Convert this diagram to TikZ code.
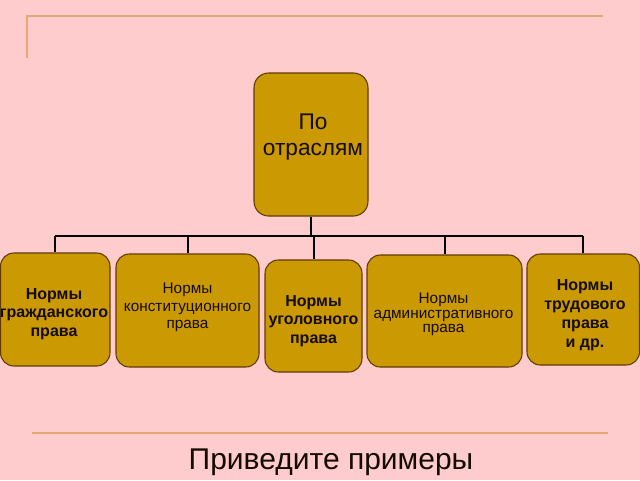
\documentclass[tikz,border=0pt]{standalone}
\usepackage{fontspec}
\setmainfont{Liberation Sans}
\definecolor{bgpink}{RGB}{254,204,204}
\definecolor{boxfill}{RGB}{203,153,2}
\definecolor{boxedge}{RGB}{96,58,8}
\definecolor{rulecol}{RGB}{226,168,118}
\definecolor{ink}{RGB}{20,12,0}
\begin{document}
\begin{tikzpicture}[x=0.75pt,y=-0.75pt,
  box/.style={draw=boxedge, fill=boxfill, rounded corners=10pt, line width=0.8pt, inner sep=0pt},
  lbl/.style={text=ink, align=center, inner sep=0pt},
  boldtxt/.style={lbl, font=\bfseries\fontsize{12}{13.9}\selectfont},
  regtxt/.style={lbl, font=\fontsize{11.5}{13}\selectfont},
  conn/.style={draw=black, line width=1.5pt},
  rulel/.style={draw=rulecol, line width=1.5pt}]
\useasboundingbox (0,0) rectangle (640,480);
\fill[bgpink] (0,0) rectangle (640,480);
% decorative rules
\draw[rulel] (27,58) -- (27,16) -- (603,16);
\draw[rulel] (32,433) -- (608,433);
% top box
\node[box, rounded corners=11pt, minimum width=85.5pt, minimum height=107.25pt] (top) at (311,144.5) {};
\node[lbl, font=\fontsize{17}{19}\selectfont] (toplbl) at (313,137) {По\\отраслям};
% bottom boxes
\node[box, minimum width=82.1pt, minimum height=84.75pt] (b1) at (55.25,309.5) {};
\node[box, minimum width=107.25pt, minimum height=84.75pt] (b2) at (187.5,310.5) {};
\node[box, minimum width=72.75pt, minimum height=84pt] (b3) at (313.5,316) {};
\node[box, minimum width=116.25pt, minimum height=84pt] (b4) at (444.5,311) {};
\node[box, minimum width=84.4pt, minimum height=83.25pt] (b5) at (583.25,309.5) {};
% box texts
\node[boldtxt] (b1t) at (54,314) {Нормы\\гражданского\\права};
\node[regtxt] (b2t) at (187.5,307.5) {Нормы\\конституционного\\права};
\node[boldtxt] (b3t) at (313.5,321) {Нормы\\уголовного\\права};
\node[regtxt, font=\fontsize{11.5}{11}\selectfont] (b4t) at (443.5,314.5) {Нормы\\административного\\права};
\node[boldtxt, font=\bfseries\fontsize{12}{14.2}\selectfont] (b5t) at (585,315.5) {Нормы\\трудового\\права\\и др.};
% connectors
\coordinate (bus) at (311,236);
\draw[conn] (top.south) -- (bus);
\draw[conn] (b1.north |- bus) -- (b5.north |- bus);
\foreach \b in {b1,b2,b3,b4,b5}{
  \draw[conn] (\b.north |- bus) -- (\b.north);
}
% caption
\node[text=ink, inner sep=0pt, font=\fontsize{22.5}{26}\selectfont] (caption) at (331,462) {Приведите примеры};
\end{tikzpicture}
\end{document}
